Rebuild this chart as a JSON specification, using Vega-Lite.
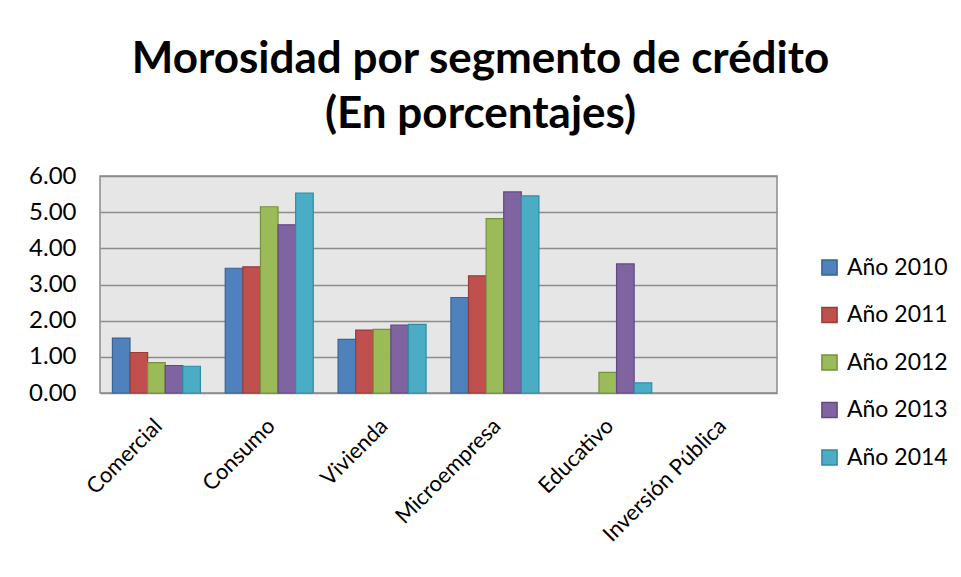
{
  "$schema": "https://vega.github.io/schema/vega-lite/v6.json",
  "autosize": "none",
  "width": 677,
  "height": 217,
  "padding": {"left": 100, "top": 176, "right": 184, "bottom": 184},
  "background": "white",
  "config": {
    "font": "Lato",
    "view": {"fill": "#E6E6E6", "stroke": "#8C8C8C", "strokeWidth": 1.5}
  },
  "title": {
    "text": ["Morosidad por segmento de crédito", "(En porcentajes)"],
    "font": "Lato",
    "fontSize": 44,
    "fontWeight": "bold",
    "color": "black",
    "lineHeight": 55,
    "anchor": "middle",
    "dx": 42,
    "offset": 27
  },
  "data": {
    "values": [
      {"segmento": "Comercial", "anio": "Año 2010", "valor": 1.52},
      {"segmento": "Comercial", "anio": "Año 2011", "valor": 1.12},
      {"segmento": "Comercial", "anio": "Año 2012", "valor": 0.84},
      {"segmento": "Comercial", "anio": "Año 2013", "valor": 0.76},
      {"segmento": "Comercial", "anio": "Año 2014", "valor": 0.74},
      {"segmento": "Consumo", "anio": "Año 2010", "valor": 3.45},
      {"segmento": "Consumo", "anio": "Año 2011", "valor": 3.49},
      {"segmento": "Consumo", "anio": "Año 2012", "valor": 5.15},
      {"segmento": "Consumo", "anio": "Año 2013", "valor": 4.65},
      {"segmento": "Consumo", "anio": "Año 2014", "valor": 5.53},
      {"segmento": "Vivienda", "anio": "Año 2010", "valor": 1.48},
      {"segmento": "Vivienda", "anio": "Año 2011", "valor": 1.74},
      {"segmento": "Vivienda", "anio": "Año 2012", "valor": 1.76},
      {"segmento": "Vivienda", "anio": "Año 2013", "valor": 1.88},
      {"segmento": "Vivienda", "anio": "Año 2014", "valor": 1.90},
      {"segmento": "Microempresa", "anio": "Año 2010", "valor": 2.64},
      {"segmento": "Microempresa", "anio": "Año 2011", "valor": 3.24},
      {"segmento": "Microempresa", "anio": "Año 2012", "valor": 4.82},
      {"segmento": "Microempresa", "anio": "Año 2013", "valor": 5.56},
      {"segmento": "Microempresa", "anio": "Año 2014", "valor": 5.45},
      {"segmento": "Educativo", "anio": "Año 2012", "valor": 0.57},
      {"segmento": "Educativo", "anio": "Año 2013", "valor": 3.57},
      {"segmento": "Educativo", "anio": "Año 2014", "valor": 0.28}
    ]
  },
  "mark": {"type": "bar", "strokeWidth": 1.2},
  "encoding": {
    "x": {
      "field": "segmento",
      "type": "nominal",
      "sort": null,
      "scale": {
        "domain": ["Comercial", "Consumo", "Vivienda", "Microempresa", "Educativo", "Inversión Pública"],
        "paddingInner": 0.22,
        "paddingOuter": 0.11
      },
      "axis": {
        "title": null,
        "labelAngle": -45,
        "labelFontSize": 22,
        "labelColor": "black",
        "labelPadding": 22,
        "labelOffset": -5,
        "ticks": false,
        "domain": false
      }
    },
    "xOffset": {
      "field": "anio",
      "type": "nominal",
      "sort": ["Año 2010", "Año 2011", "Año 2012", "Año 2013", "Año 2014"],
      "scale": {"domain": ["Año 2010", "Año 2011", "Año 2012", "Año 2013", "Año 2014"], "paddingInner": 0, "paddingOuter": 0}
    },
    "y": {
      "field": "valor",
      "type": "quantitative",
      "scale": {"domain": [0, 6], "nice": false},
      "axis": {
        "title": null,
        "values": [0, 1, 2, 3, 4, 5, 6],
        "format": ".2f",
        "labelFontSize": 24,
        "labelColor": "black",
        "labelPadding": 24,
        "ticks": false,
        "domain": false,
        "gridColor": "#8C8C8C",
        "gridWidth": 1.5,
        "gridOpacity": 1
      }
    },
    "fill": {
      "field": "anio",
      "type": "nominal",
      "scale": {
        "domain": ["Año 2010", "Año 2011", "Año 2012", "Año 2013", "Año 2014"],
        "range": ["#4F81BD", "#C0504D", "#9BBB59", "#8064A2", "#4BACC6"]
      },
      "legend": {
        "title": null,
        "orient": "none",
        "legendX": 718,
        "legendY": 80,
        "symbolType": "square",
        "symbolSize": 230,
        "symbolStrokeWidth": 1.5,
        "labelFontSize": 23,
        "labelColor": "black",
        "labelOffset": 6,
        "rowPadding": 23.5
      }
    },
    "stroke": {
      "field": "anio",
      "type": "nominal",
      "scale": {
        "domain": ["Año 2010", "Año 2011", "Año 2012", "Año 2013", "Año 2014"],
        "range": ["#3A6393", "#963D3A", "#77913F", "#5F4A7D", "#338BA2"]
      },
      "legend": {
        "title": null,
        "orient": "none",
        "legendX": 718,
        "legendY": 80,
        "symbolType": "square",
        "symbolSize": 230,
        "symbolStrokeWidth": 1.5,
        "labelFontSize": 23,
        "labelColor": "black",
        "labelOffset": 6,
        "rowPadding": 23.5
      }
    }
  }
}
